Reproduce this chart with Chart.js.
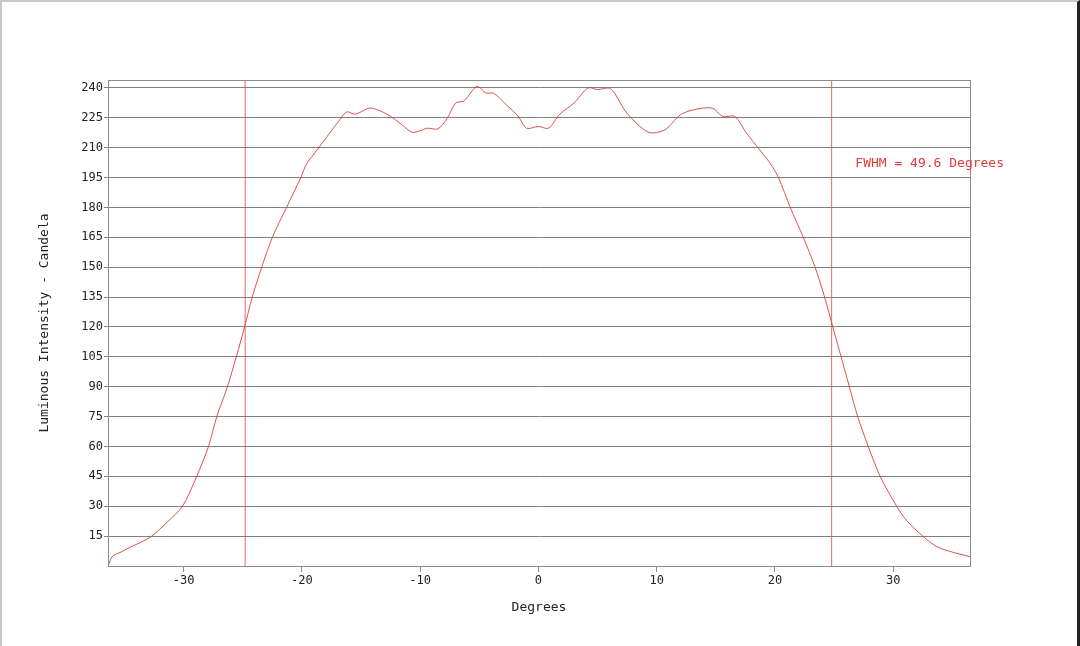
<!DOCTYPE html>
<html>
<head>
<meta charset="utf-8">
<script src="https://cdn.jsdelivr.net/npm/chart.js@4.4.0/dist/chart.umd.min.js"></script>
<style>
  html, body { margin: 0; padding: 0; background: #fff; }
  #wrap { position: relative; width: 1080px; height: 646px; }
  #frame { position: absolute; left: 0; top: 0; width: 1080px; height: 646px; box-sizing: border-box;
           border-left: 2px solid #c8c8c8; border-top: 2px solid #c8c8c8; border-right: 3px solid #222; pointer-events: none; }
</style>
</head>
<body>
<div id="wrap">
  <canvas id="c" width="1080" height="646"></canvas>
  <div id="frame"></div>
</div>
<script>
// ---- data ----
const degrees = [-36.4,-36.0,-35.3,-34.5,-33.6,-32.7,-31.4,-30.1,-28.9,-27.9,
  -27.2,-26.3,-25.55,-24.85,-24.2,-23.4,-22.5,-21.3,-20.1,-19.6,
  -18.7,-17.7,-16.8,-16.2,-15.5,-14.2,-12.8,-11.7,-10.7,-10.0,
  -9.4,-8.5,-7.7,-7.0,-6.3,-5.2,-4.4,-3.8,-2.7,-1.7,
  -1.0,0,0.85,1.8,3.0,4.2,5.0,6.1,7.5,9.3,
  10.7,12.0,13.1,14.7,15.6,16.6,17.6,18.7,19.6,20.3,
  21.3,22.4,23.4,24.2,24.9,25.6,26.3,27.0,27.9,28.9,
  30.3,31.1,32.5,33.7,35.0,36.5];
const intensity = [0,5,7,9.5,12,15,22,30,45,60,
  75,90,105,120,135,150,165,180,195,202,
  209,217,224,228,226.8,229.9,226.8,222.3,217.8,218.5,
  219.8,219.5,224.9,232.4,233.5,240.7,237.4,237.4,231.5,225.7,
  219.8,220.7,219.8,226.8,232.4,240,239.2,239.6,227.3,217.8,
  219,226.5,229,229.9,225.7,225.7,217.3,209,202.2,195,
  180,165,150,135,120,105,90,75,60,45,
  30,23.1,15,9.7,7,4.7];
const fwhmEdges = [-24.8, 24.8];
const fwhmLabel = "FWHM = 49.6 Degrees";
const xTickValues = [-30,-20,-10,0,10,20,30];
const yTickStep = 15;
const xMin = -36.4, xMax = 36.5, yMin = 0, yMax = 244;

const curve = degrees.map((d, i) => ({ x: d, y: intensity[i] }));
const fwhmSets = fwhmEdges.map(e => ({
  data: [{ x: e, y: yMin }, { x: e, y: yMax }],
  borderColor: 'rgba(235,85,85,0.9)', borderWidth: 1, pointRadius: 0, tension: 0
}));

const MONO = '"DejaVu Sans Mono", "Liberation Mono", monospace';

const framePlugin = {
  id: 'framePlugin',
  afterDatasetsDraw(chart) {
    const { ctx, chartArea: a, scales } = chart;
    ctx.save();
    ctx.strokeStyle = '#8c8c8c';
    ctx.lineWidth = 1;
    ctx.strokeRect(Math.round(a.left) + 0.5, Math.round(a.top) + 0.5, Math.round(a.right - a.left), Math.round(a.bottom - a.top));
    ctx.fillStyle = '#e03a3a';
    ctx.font = '13px ' + MONO;
    ctx.textBaseline = 'middle';
    ctx.textAlign = 'left';
    ctx.fillText(fwhmLabel, scales.x.getPixelForValue(26.8), scales.y.getPixelForValue(202));
    ctx.restore();
  }
};

new Chart(document.getElementById('c'), {
  type: 'line',
  data: {
    datasets: [{
      data: curve,
      borderColor: 'rgba(220,60,60,0.9)',
      borderWidth: 1,
      pointRadius: 0,
      tension: 0.3
    }, ...fwhmSets]
  },
  options: {
    responsive: false,
    animation: false,
    devicePixelRatio: 1,
    layout: { padding: { left: 33, right: 110, top: 80, bottom: 31 } },
    plugins: { legend: { display: false }, tooltip: { enabled: false } },
    scales: {
      x: {
        type: 'linear', min: xMin, max: xMax,
        afterFit(s) { s.height = 49; },
        afterBuildTicks(s) { s.ticks = xTickValues.map(v => ({ value: v })); },
        grid: { drawOnChartArea: false, color: '#8c8c8c', tickLength: 6 },
        border: { color: '#8c8c8c' },
        ticks: { font: { family: MONO, size: 12 }, color: '#222', padding: 2, maxRotation: 0 },
        title: { display: true, text: 'Degrees', font: { family: MONO, size: 13 }, color: '#222', padding: { top: 4, bottom: 0 } }
      },
      y: {
        type: 'linear', min: yMin, max: yMax,
        afterFit(s) { s.width = 75; },
        afterBuildTicks(s) {
          const t = [];
          for (let v = yTickStep; v <= yMax; v += yTickStep) t.push({ value: v });
          s.ticks = t;
        },
        grid: { color: '#808080', tickLength: 4, lineWidth: 1 },
        border: { color: '#8c8c8c' },
        ticks: { font: { family: MONO, size: 12 }, color: '#222', padding: 1 },
        title: { display: true, text: 'Luminous Intensity - Candela', font: { family: MONO, size: 13 }, color: '#222', padding: 4 }
      }
    }
  },
  plugins: [framePlugin]
});
</script>
</body>
</html>
